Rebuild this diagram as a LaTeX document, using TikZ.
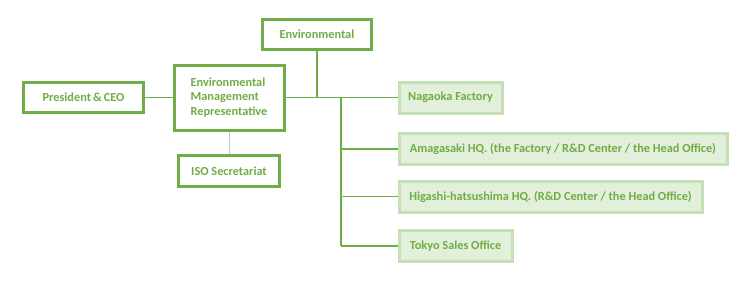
\documentclass[tikz,border=0pt]{standalone}
\usepackage{fontspec}
\setmainfont{Carlito}
\usepackage{tikz}
\usetikzlibrary{calc}
\definecolor{ecogreen}{HTML}{70AD47}
\definecolor{palefill}{HTML}{E2EFDA}
\definecolor{paleedge}{HTML}{C5E0B4}
\definecolor{paleblue}{HTML}{B4C7E7}
\tikzset{
  obox/.style={draw=ecogreen, line width=3pt, fill=white, text=ecogreen,
    font=\fontsize{12.3}{14.5}\selectfont\bfseries, inner sep=2pt},
  sbox/.style={draw=paleedge, line width=3pt, fill=palefill, text=ecogreen,
    font=\fontsize{12.3}{14.5}\selectfont\bfseries, inner sep=2pt, anchor=west,
    minimum height=31pt},
  conn/.style={draw=ecogreen, line width=1.5pt},
  isoln/.style={draw=paleblue, line width=1pt},
}
\begin{document}
\begin{tikzpicture}[x=1pt,y=-1pt]
  \useasboundingbox (0,0) rectangle (755,282);
  % management side
  \node[obox, minimum width=109pt, minimum height=30pt] (env) at (317,34.5) {Environmental};
  \node[obox, minimum width=120pt, minimum height=30pt] (ceo) at (83.5,97.5) {President\,\&\,CEO};
  \node[obox, minimum width=110pt, minimum height=65pt, align=left] (emr) at (229,97.5)
    {Environmental\\Management\\Representative};
  \node[obox, minimum width=101pt, minimum height=31pt] (iso) at (229,171) {ISO Secretariat};
  % sites
  \node[sbox, minimum width=103pt] (nagaoka) at (397.5,97.5) {Nagaoka Factory};
  \node[sbox, minimum width=328pt] (amagasaki) at (397.5,149) {Amagasaki HQ. (the Factory / R\&D Center / the Head Office)};
  \node[sbox, minimum width=303pt] (higashi) at (397.5,196.5) {Higashi-hatsushima HQ. (R\&D Center / the Head Office)};
  \node[sbox, minimum width=113pt] (tokyo) at (397.5,246) {Tokyo Sales Office};
  % connectors
  \coordinate (hub) at (341,97.5);
  \draw[conn] (ceo) -- (emr);
  \draw[conn] (emr.east) -- (hub);
  \draw[conn] (env.south) -- (env.south |- hub);
  \draw[conn] (hub) -- (hub |- tokyo.west);
  \foreach \s in {nagaoka,amagasaki,higashi,tokyo}
    \draw[conn] (hub |- \s.west) -- (\s.west);
  \draw[isoln] (emr.south) -- (iso.north);
\end{tikzpicture}
\end{document}
